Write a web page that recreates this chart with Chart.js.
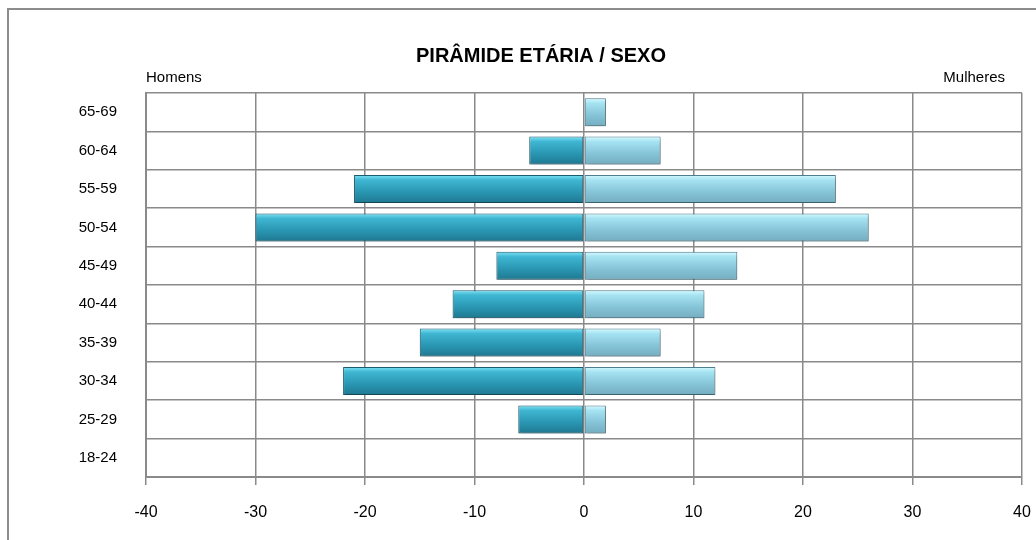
<!DOCTYPE html>
<html><head><meta charset="utf-8">
<script src="https://cdn.jsdelivr.net/npm/chart.js@4"></script>
<style>html,body{margin:0;padding:0;background:#fff}#wrap{width:1036px;height:540px}</style>
</head><body><div id="wrap"><canvas id="c" width="1036" height="540"></canvas></div>
<script>
const categories = ['65-69','60-64','55-59','50-54','45-49','40-44','35-39','30-34','25-29','18-24'];
const homens = [0,-5,-21,-30,-8,-12,-15,-22,-6,0];
const mulheres = [2,7,23,26,14,11,7,12,2,0];
const xTicks = [-40,-30,-20,-10,0,10,20,30,40];
const titleText = 'PIRÂMIDE ETÁRIA / SEXO';
const leftLabel = 'Homens';
const rightLabel = 'Mulheres';

function grad(stops){
  return function(ctx){
    const chart = ctx.chart;
    if(!chart.chartArea || ctx.dataIndex===undefined) return stops[1];
    const ys = chart.scales.y;
    const c = ys.getPixelForValue(ctx.dataIndex);
    const h = (ys.getPixelForValue(1)-ys.getPixelForValue(0))*0.73/2;
    const g = chart.ctx.createLinearGradient(0,c-h,0,c+h);
    g.addColorStop(0,stops[0]);
    g.addColorStop(0.18,stops[1]);
    g.addColorStop(0.6,stops[2]);
    g.addColorStop(1,stops[3]);
    return g;
  };
}

const deco = {
  id:'deco',
  beforeDraw(chart){
    const c = chart.ctx;
    c.save();
    c.strokeStyle='#8c8c8c'; c.lineWidth=2;
    c.beginPath(); c.moveTo(8,560); c.lineTo(8,9); c.lineTo(1040,9); c.stroke();
    c.fillStyle='#000';
    c.font='bold 20px "Liberation Sans", Arial, sans-serif';
    c.textAlign='center'; c.textBaseline='middle';
    c.fillText(titleText,541,56);
    c.font='15px "Liberation Sans", Arial, sans-serif';
    c.textAlign='left'; c.fillText(leftLabel,146,78);
    c.textAlign='right'; c.fillText(rightLabel,1005,78);
    c.restore();
  },
  beforeDatasetsDraw(chart){
    const c=chart.ctx; c.save();
    c.shadowColor='rgba(0,0,0,0.28)'; c.shadowBlur=4; c.shadowOffsetY=3; c.shadowOffsetX=1;
  },
  afterDatasetsDraw(chart){ chart.ctx.restore(); }
};

new Chart(document.getElementById('c'),{
  type:'bar',
  data:{labels:categories,datasets:[
    {label:leftLabel,data:homens,
     backgroundColor:grad(['#7fe3f5','#3fb6d2','#2a97b3','#1f7891']),
     borderColor:'#1c5d70',borderWidth:1,borderSkipped:false,
     categoryPercentage:1,barPercentage:0.73},
    {label:rightLabel,data:mulheres,
     backgroundColor:grad(['#d6fbff','#a6e3f2','#86c4d8','#74adc0']),
     borderColor:'#4f7f90',borderWidth:1,borderSkipped:false,
     categoryPercentage:1,barPercentage:0.73}
  ]},
  plugins:[deco],
  options:{
    indexAxis:'y',responsive:false,animation:false,
    layout:{padding:{top:93,right:14,left:0,bottom:0}},
    plugins:{legend:{display:false},tooltip:{enabled:false},title:{display:false}},
    scales:{
      x:{stacked:true,min:-40,max:40,
        afterBuildTicks(s){s.ticks=xTicks.map(v=>({value:v}));},
        afterFit(s){s.height=63;s.paddingRight=0;s.paddingLeft=0;},
        grid:{color:'#8a8a8a',lineWidth:1.5,tickLength:8,drawTicks:true},
        border:{color:'#8a8a8a',width:2},
        ticks:{color:'#000',padding:18,font:{size:16,family:'"Liberation Sans", Arial, sans-serif'}}
      },
      y:{stacked:true,
        afterFit(s){s.width=146;},
        grid:{color:'#8a8a8a',lineWidth:1.5,drawTicks:false,offset:true},
        border:{color:'#8a8a8a',width:2},
        ticks:{color:'#000',padding:29,font:{size:15,family:'"Liberation Sans", Arial, sans-serif'}}
      }
    }
  }
});
</script></body></html>
